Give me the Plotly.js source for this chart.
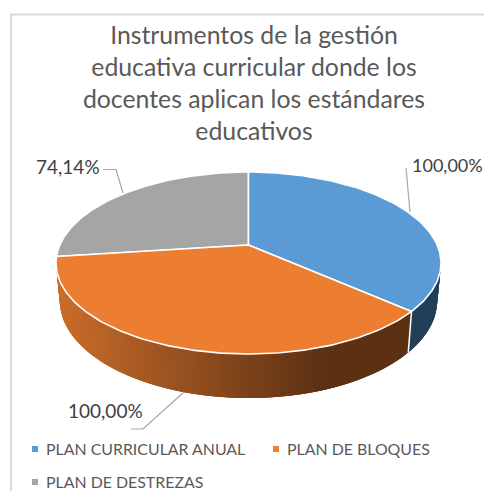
<!DOCTYPE html>
<html>
<head>
<meta charset="utf-8">
<script src="https://cdn.plot.ly/plotly-3.0.1.min.js"></script>
<style>html,body{margin:0;padding:0;background:#fff;overflow:hidden}#chart{width:484px;height:491px}</style>
</head>
<body>
<div id="chart"></div>
<script>
// ---- data ----
const categories = ['PLAN CURRICULAR ANUAL', 'PLAN DE BLOQUES', 'PLAN DE DESTREZAS'];
const values = [100.00, 100.00, 74.14];
const valueLabels = ['100,00%', '100,00%', '74,14%'];
const chartTitle = 'Instrumentos de la gestión<br>educativa curricular donde los<br>docentes aplican los estándares<br>educativos';

// ---- styling ----
const faceColors = ['#5b9bd5', '#ed7d31', '#a5a5a5'];
const textColor = '#595959';
const fontFamily = 'Lato, "Open Sans", sans-serif';

// ---- projection of the tilted disc onto the axes ----
const cx = 248.5, cy = 245, p = 0.198, A = 87.4, B = 188.7;
function topPoint(deg) {
  const t = deg * Math.PI / 180, u = Math.sin(t), v = Math.cos(t), w = 1 + p * v;
  return [cx + B * u / w, cy - A * v / w];
}
function bottomPoint(deg) {
  const q = topPoint(deg);
  return [cx + 0.98 * (q[0] - cx), 281.4 + 1.07 * (q[1] - cy)];
}
const total = values.reduce((a, b) => a + b, 0);
const angles = [0];
values.forEach((v, i) => angles.push(angles[i] + v / total * 360));

function mix(a, b, f) {
  const ca = [1, 3, 5].map(i => parseInt(a.substr(i, 2), 16));
  const cb = [1, 3, 5].map(i => parseInt(b.substr(i, 2), 16));
  return 'rgb(' + ca.map((c, i) => Math.round(c + (cb[i] - c) * f)).join(',') + ')';
}
function wallColor(slice, x) {
  if (slice === 0) return '#223f58';
  const f = Math.min(1, Math.max(0, (x - 60) / (325 - 60)));
  return mix('#c96c2a', '#5c3113', f);
}

const traces = [];
// side wall: overlapping quads along the rim, painted in order, so the shading has no seams
for (let s = 0; s < 2; s++) {
  const start = s === 0 ? 88 : angles[s];
  const end = angles[s + 1];
  const step = 1;
  for (let a = start; a < end; a += step) {
    const b = Math.min(a + 3, end);
    const xsT = [], ysT = [], xsB = [], ysB = [];
    for (let t = a; t < b; t += 0.5) {
      const q = topPoint(t), r = bottomPoint(t);
      xsT.push(q[0]); ysT.push(q[1]); xsB.unshift(r[0]); ysB.unshift(r[1]);
    }
    const qe = topPoint(b), re = bottomPoint(b);
    xsT.push(qe[0]); ysT.push(qe[1]); xsB.unshift(re[0]); ysB.unshift(re[1]);
    const col = wallColor(s, topPoint(a)[0]);
    traces.push({
      type: 'scatter', mode: 'lines', fill: 'toself', fillcolor: col,
      x: xsT.concat(xsB), y: ysT.concat(ysB),
      line: {color: col, width: 0}, hoverinfo: 'skip', showlegend: false
    });
  }
}
// white seam between blue and orange walls
{
  const a = topPoint(angles[1]), b = bottomPoint(angles[1]);
  traces.push({type: 'scatter', mode: 'lines', x: [a[0], b[0]], y: [a[1], b[1]],
    line: {color: '#ffffff', width: 1.5}, hoverinfo: 'skip', showlegend: false});
}
// top faces
[2, 0, 1].forEach(i => {
  const xs = [cx], ys = [cy];
  for (let a = angles[i]; a < angles[i + 1]; a += 1) {
    const q = topPoint(a); xs.push(q[0]); ys.push(q[1]);
  }
  const e = topPoint(angles[i + 1]); xs.push(e[0], cx); ys.push(e[1], cy);
  traces.push({
    type: 'scatter', mode: 'lines', fill: 'toself', fillcolor: faceColors[i],
    x: xs, y: ys, line: {color: '#ffffff', width: 1.6},
    name: categories[i], text: valueLabels[i], hoverinfo: 'name+text', showlegend: false
  });
});

// legend swatches + texts
const legendX = [35, 276, 35], legendY = [449, 449, 482];
categories.forEach((c, i) => {
  traces.push({
    type: 'scatter', mode: 'markers', x: [legendX[i]], y: [legendY[i]],
    marker: {symbol: 'square', size: 6, color: faceColors[i]},
    name: c, hoverinfo: 'skip', showlegend: false
  });
});
const annotations = categories.map((c, i) => ({
  x: legendX[i] + 11, y: legendY[i] - 1, xref: 'x', yref: 'y', xanchor: 'left', yanchor: 'middle',
  text: c, showarrow: false, font: {family: fontFamily, size: 15.9, color: textColor},
  borderpad: 0, xshift: -1
}));
// value labels
[[410, 165, 'left', 18], [105, 410, 'center', 19], [68, 166, 'center', 19]].forEach((pos, i) => {
  annotations.push({
    x: pos[0], y: pos[1], xref: 'x', yref: 'y', xanchor: pos[2], yanchor: 'middle',
    text: valueLabels[i], showarrow: false,
    font: {family: fontFamily, size: pos[3], color: '#404040'}
  });
});

const leader = d => ({type: 'path', xref: 'x', yref: 'y', path: d,
  line: {color: '#a6a6a6', width: 1.2}, layer: 'above'});

const layout = {
  width: 484, height: 491,
  margin: {l: 0, r: 0, t: 0, b: 0},
  paper_bgcolor: '#ffffff', plot_bgcolor: '#ffffff',
  showlegend: false,
  title: {text: chartTitle, x: 254 / 484, xanchor: 'center', y: 0.911, yanchor: 'top',
          font: {family: fontFamily, size: 24.8, color: textColor}},
  xaxis: {range: [0, 484], visible: false, fixedrange: true},
  yaxis: {range: [491, 0], visible: false, fixedrange: true},
  shapes: [
    {type: 'path', xref: 'x', yref: 'y', path: 'M11,500 L11,14.5 L490,14.5',
     line: {color: '#d9d9d9', width: 2}, layer: 'below'},
    leader('M103,169.5 L116,169.5 L123,193'),
    leader('M406,168 L410,212'),
    leader('M131,429 L143,429 L184,392')
  ],
  annotations: annotations
};
Plotly.newPlot('chart', traces, layout, {staticPlot: true, displayModeBar: false});
</script>
</body>
</html>
